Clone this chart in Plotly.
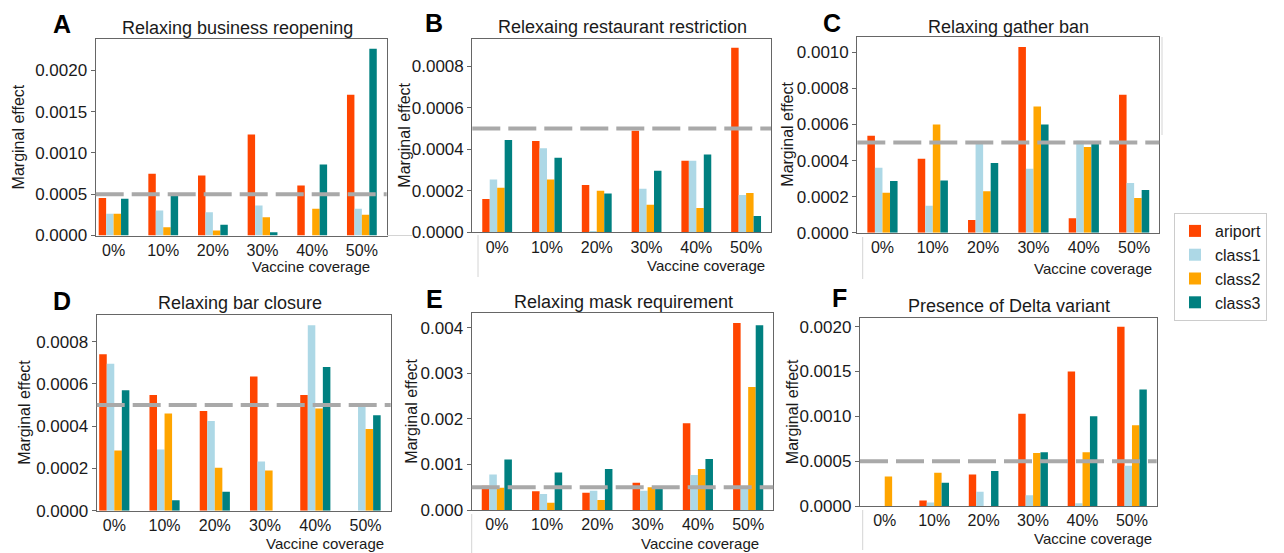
import plotly.graph_objects as go

# ---------------- data ----------------
coverage = ["0%", "10%", "20%", "30%", "40%", "50%"]
series = ["ariport", "class1", "class2", "class3"]
colors = ["#FF4500", "#ADD8E6", "#FFA500", "#008080"]

# A: Relaxing business reopening
business_ariport = [0.000453, 0.000747, 0.000727, 0.001224, 0.000606, 0.001705]
business_class1 = [0.000263, 0.000303, 0.000283, 0.000364, 0.0, 0.000323]
business_class2 = [0.000263, 0.000101, 0.000060, 0.000222, 0.000323, 0.000250]
business_class3 = [0.000444, 0.000485, 0.000129, 0.000040, 0.000861, 0.002263]

# B: Relexaing restaurant restriction
restaurant_ariport = [0.000160, 0.000440, 0.000228, 0.000490, 0.000345, 0.000890]
restaurant_class1 = [0.000255, 0.000405, 0.000005, 0.000210, 0.000345, 0.000180]
restaurant_class2 = [0.000215, 0.000255, 0.000200, 0.000133, 0.000117, 0.000190]
restaurant_class3 = [0.000445, 0.000360, 0.000187, 0.000297, 0.000375, 0.000078]

# C: Relaxing gather ban
gather_ariport = [0.000537, 0.000410, 0.000070, 0.001030, 0.000080, 0.000765]
gather_class1 = [0.000360, 0.000150, 0.000500, 0.000355, 0.000510, 0.000275]
gather_class2 = [0.000222, 0.000600, 0.000230, 0.000700, 0.000475, 0.000193]
gather_class3 = [0.000287, 0.000290, 0.000387, 0.000600, 0.000500, 0.000237]

# D: Relaxing bar closure
bar_ariport = [0.000740, 0.000548, 0.000472, 0.000635, 0.000548, 0.0]
bar_class1 = [0.000695, 0.000290, 0.000425, 0.000233, 0.000878, 0.000500]
bar_class2 = [0.000285, 0.000460, 0.000203, 0.000190, 0.000483, 0.000387]
bar_class3 = [0.000570, 0.000050, 0.000090, 0.0, 0.000680, 0.000452]

# E: Relaxing mask requirement
mask_ariport = [0.00053, 0.00041, 0.00038, 0.00060, 0.00190, 0.00410]
mask_class1 = [0.00078, 0.00035, 0.00042, 0.00042, 0.00077, 0.00048]
mask_class2 = [0.00049, 0.00016, 0.00022, 0.00050, 0.00090, 0.00270]
mask_class3 = [0.00111, 0.00082, 0.00090, 0.00047, 0.00112, 0.00405]

# F: Presence of Delta variant
delta_ariport = [0.0, 0.00006, 0.00035, 0.00103, 0.00150, 0.00200]
delta_class1 = [0.0, 0.00004, 0.00016, 0.00012, 0.00003, 0.00045]
delta_class2 = [0.00033, 0.00037, 0.0, 0.00059, 0.00060, 0.00090]
delta_class3 = [0.0, 0.00026, 0.00039, 0.00060, 0.00100, 0.00130]

reference_level = 0.0005

titles = ["Relaxing business reopening", "Relexaing restaurant restriction",
          "Relaxing gather ban", "Relaxing bar closure",
          "Relaxing mask requirement", "Presence of Delta variant"]
letters = ["A", "B", "C", "D", "E", "F"]

panel_data = [
    [business_ariport, business_class1, business_class2, business_class3],
    [restaurant_ariport, restaurant_class1, restaurant_class2, restaurant_class3],
    [gather_ariport, gather_class1, gather_class2, gather_class3],
    [bar_ariport, bar_class1, bar_class2, bar_class3],
    [mask_ariport, mask_class1, mask_class2, mask_class3],
    [delta_ariport, delta_class1, delta_class2, delta_class3],
]

# ---------------- layout (pixel geometry) ----------------
W, H = 1284, 553
def px(x):
    return x / W
def py(y):
    return 1 - y / H

# frame: left, right, top, bottom (pixels)
frames = [
    (95.7, 386.7, 39.3, 235.5),
    (472.3, 771.0, 39.0, 232.3),
    (857.3, 1159.3, 36.7, 232.7),
    (96.7, 390.7, 315.0, 510.7),
    (471.7, 773.3, 313.3, 510.0),
    (860.0, 1156.7, 318.3, 506.0),
]
xranges = [(-0.36, 5.5), (-0.5, 5.5), (-0.5, 5.5), (-0.35, 5.5), (-0.5, 5.5), (-0.5, 5.5)]
yranges = [(0, 0.002376), (0, 0.000932), (0, 0.001087), (0, 0.000926), (0, 0.004314), (0, 0.002093)]
dticks = [0.0005, 0.0002, 0.0002, 0.0002, 0.001, 0.0005]
fmts = [".4f", ".4f", ".4f", ".4f", ".3f", ".4f"]
title_pos = [(237, 28), (622, 27), (1008, 27), (240, 303), (623, 302), (1009, 306)]
letter_pos = [(62, 24), (434, 23), (832, 23), (62, 301), (434, 299), (839, 298)]
ylab_x = [18, 405, 788, 25, 412, 792]
xlab_pos = [(311, 267), (706, 265), (1093, 268), (325, 543), (700, 543), (1093, 538)]

FRAME = "#666666"
TXT = "#1a1a1a"
FONT = "Liberation Sans, Arial, sans-serif"

fig = go.Figure()
annotations = []
shapes = []

for i in range(6):
    k = "" if i == 0 else str(i + 1)
    l, r, t, b = frames[i]
    for s in range(4):
        fig.add_trace(go.Bar(
            x=coverage, y=panel_data[i][s], name=series[s],
            marker=dict(color=colors[s], line=dict(width=0)),
            xaxis="x" + k, yaxis="y" + k,
            legendgroup=series[s], showlegend=(i == 0),
        ))
    fig.layout["xaxis" + k] = dict(
        domain=[px(l), px(r)], anchor="y" + k, type="category",
        range=list(xranges[i]), showline=True, mirror=True,
        linecolor=FRAME, linewidth=1.3, showgrid=False, zeroline=False,
        ticks="",
        tickfont=dict(size=16, color=TXT, family=FONT), automargin=False,
    )
    fig.layout["yaxis" + k] = dict(
        domain=[py(b), py(t)], anchor="x" + k,
        range=list(yranges[i]), dtick=dticks[i], tick0=0, tickformat=fmts[i],
        showline=True, mirror=True, linecolor=FRAME, linewidth=1.3,
        showgrid=False, zeroline=False, ticks="outside", ticklen=4,
        tickcolor=FRAME, tickwidth=1,
        tickfont=dict(size=17, color=TXT, family=FONT), automargin=False,
    )
    shapes.append(dict(
        type="line", xref="x" + k + " domain", yref="y" + k,
        x0=0, x1=1, y0=reference_level, y1=reference_level,
        line=dict(color="#A9A9A9", width=4, dash="28px,8px"), layer="above",
    ))
    annotations.append(dict(
        text=titles[i], x=px(title_pos[i][0]), y=py(title_pos[i][1]),
        xref="paper", yref="paper", xanchor="center", yanchor="middle",
        showarrow=False, font=dict(size=18, color=TXT, family=FONT),
    ))
    annotations.append(dict(
        text="<b>" + letters[i] + "</b>", x=px(letter_pos[i][0]), y=py(letter_pos[i][1]),
        xref="paper", yref="paper", xanchor="center", yanchor="middle",
        showarrow=False, font=dict(size=25, color="#000000", family=FONT),
    ))
    annotations.append(dict(
        text="Marginal effect", x=px(ylab_x[i]), y=py((t + b) / 2),
        xref="paper", yref="paper", xanchor="center", yanchor="middle",
        textangle=-90, showarrow=False,
        font=dict(size=16, color=TXT, family=FONT),
    ))
    annotations.append(dict(
        text="Vaccine coverage", x=px(xlab_pos[i][0]), y=py(xlab_pos[i][1]),
        xref="paper", yref="paper", xanchor="center", yanchor="middle",
        showarrow=False, font=dict(size=15, color=TXT, family=FONT),
    ))

# faint leftover frame edges from the original figure assembly
LIGHT = "#d4d4d4"
for (x0, y0, x1, y1) in [(478, 235, 478, 277), (387, 235.5, 412, 235.5),
                         (862.7, 237, 862.7, 279), (1162, 37, 1162, 135),
                         (471.7, 514, 471.7, 553), (862.7, 510, 862.7, 550)]:
    shapes.append(dict(type="line", xref="paper", yref="paper",
                       x0=px(x0), x1=px(x1), y0=py(y0), y1=py(y1),
                       line=dict(color=LIGHT, width=1)))

fig.update_layout(
    width=W, height=H, margin=dict(l=0, r=0, t=0, b=0),
    paper_bgcolor="white", plot_bgcolor="white",
    barmode="group", bargap=0.4, bargroupgap=0,
    shapes=shapes, annotations=annotations,
    font=dict(family=FONT, color=TXT),
    legend=dict(x=px(1174), y=py(213), xanchor="left", yanchor="top",
                bordercolor="#cccccc", borderwidth=1, bgcolor="white",
                font=dict(size=16, color=TXT, family=FONT),
                traceorder="normal", itemwidth=30),
    showlegend=True,
)

fig.write_html("out.html",
               config={"displayModeBar": False},
               post_script="document.body.style.margin='0';document.body.style.padding='0';document.body.style.overflow='hidden';")
